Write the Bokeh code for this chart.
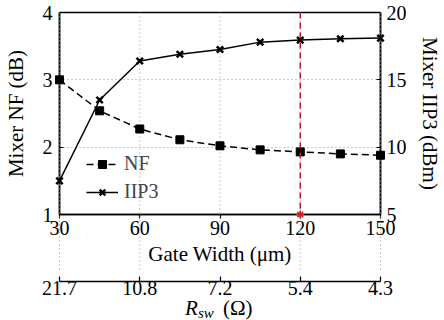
from bokeh.plotting import figure
from bokeh.models import Range1d, LinearAxis, FixedTicker, Span, Legend, LegendItem
from bokeh.core.properties import value
from bokeh.embed import file_html
from bokeh.resources import INLINE

# ---- data ----
gate_width = [30, 45, 60, 75, 90, 105, 120, 135, 150]
nf_db = [3.0, 2.54, 2.27, 2.11, 2.02, 1.96, 1.93, 1.90, 1.88]
iip3_dbm = [7.5, 13.5, 16.4, 16.9, 17.25, 17.8, 17.95, 18.05, 18.1]
gw_ticks = [30, 60, 90, 120, 150]
rsw_labels = ["21.7", "10.8", "7.2", "5.4", "4.3"]
nf_ticks = [1, 2, 3, 4]
iip3_ticks = [5, 10, 15, 20]
chosen_width = [120]
chosen_floor = [1]

FONT = "Liberation Serif"
TICK_FS = "20px"
LABEL_FS = "21px"

# layout constants (data-space rows below the frame, used for the twin-axis band)
BAND_BOTTOM = 0.1386
GW_TITLE_Y = 0.406
RSW_TITLE_Y = -0.39

p = figure(width=444, height=320, x_range=Range1d(30, 150), y_range=Range1d(1, 4),
           output_backend="svg", toolbar_location=None,
           min_border_left=57, min_border_right=58, min_border_top=12,
           min_border_bottom=106, background_fill_color="white",
           border_fill_color="white")
p.extra_y_ranges = {"iip3": Range1d(5, 20)}
p.outline_line_color = "black"
p.outline_line_width = 1.5

# grids (vertical ones are drawn as dotted segments reaching the second axis)
p.xgrid.visible = False
p.ygrid.ticker = FixedTicker(ticks=nf_ticks)
p.ygrid.grid_line_color = "#999999"
p.ygrid.grid_line_dash = "1 3"
p.ygrid.grid_line_width = 1

# left axis
ya = p.yaxis[0]
ya.ticker = FixedTicker(ticks=nf_ticks)
ya.axis_label = "Mixer NF (dB)"
ya.axis_label_standoff = 12
ya.major_label_standoff = 7
ya.major_tick_in = 4
ya.major_tick_out = 0

# right axis
yr = LinearAxis(y_range_name="iip3", ticker=FixedTicker(ticks=iip3_ticks),
                axis_label="Mixer IIP3 (dBm)")
yr.axis_label_standoff = 8
yr.major_label_standoff = 6
yr.major_tick_in = 4
yr.major_tick_out = 0
p.add_layout(yr, "right")

# bottom axis (gate width)
xa = p.xaxis[0]
xa.ticker = FixedTicker(ticks=gw_ticks)
xa.major_tick_in = 0
xa.major_tick_out = 4
xa.major_label_standoff = 2
xa.axis_label = " "
xa.axis_label_standoff = 17

# second bottom axis (R_sw)
xb = LinearAxis(ticker=FixedTicker(ticks=gw_ticks),
                major_label_overrides={t: s for t, s in zip(gw_ticks, rsw_labels)})
xb.major_tick_in = 5
xb.major_tick_out = 0
xb.major_label_standoff = -1
p.add_layout(xb, "below")

for ax in (ya, yr, xa, xb):
    ax.minor_tick_line_color = None
    ax.axis_line_color = "black"
    ax.axis_line_width = 1.5
    ax.major_tick_line_color = "black"
    ax.major_tick_line_width = 1.2
    ax.major_label_text_font = FONT
    ax.major_label_text_font_size = TICK_FS
    ax.major_label_text_color = "black"
    ax.axis_label_text_font = FONT
    ax.axis_label_text_font_size = LABEL_FS
    ax.axis_label_text_font_style = "normal"
    ax.axis_label_text_color = "black"

# dotted vertical guides from the top of the frame down to the second axis
p.segment(x0=gw_ticks, y0=[nf_ticks[-1]] * len(gw_ticks), x1=gw_ticks,
          y1=[BAND_BOTTOM] * len(gw_ticks), line_color="#8c8c8c", line_dash="1 3",
          line_width=1, level="overlay")

# red marker line
p.add_layout(Span(location=chosen_width[0], dimension="height", line_color="#b22222",
                  line_dash="6 4", line_width=1.5, level="overlay"))

# series
nf_line = p.line(gate_width, nf_db, line_color="black", line_width=1.5, line_dash="7 4",
                 level="overlay")
nf_pts = p.scatter(gate_width, nf_db, marker="square", size=8, fill_color="black",
                   line_color="black", level="overlay")
ip_line = p.line(gate_width, iip3_dbm, y_range_name="iip3", line_color="black",
                 line_width=1.5, level="overlay")
ip_pts = p.scatter(gate_width, iip3_dbm, y_range_name="iip3", marker="x", size=9,
                   line_color="black", line_width=2.5, level="overlay")
p.scatter(chosen_width, chosen_floor, marker="asterisk", size=8, line_color="#cc2222",
          line_width=1.5, level="overlay")

legend = Legend(items=[LegendItem(label="NF", renderers=[nf_line, nf_pts]),
                       LegendItem(label="IIP3", renderers=[ip_line, ip_pts])],
                location=(27, 11), orientation="vertical")
legend.border_line_color = None
legend.background_fill_alpha = 0
legend.label_text_font = FONT
legend.label_text_font_size = TICK_FS
legend.glyph_width = 32
legend.glyph_height = 20
legend.label_height = 20
legend.label_standoff = 6
legend.spacing = 5
legend.padding = 0
legend.margin = 0
p.add_layout(legend)

# axis titles in the band below the frame
mid = gw_ticks[2]
p.text(x=[mid], y=[GW_TITLE_Y], text=["Gate Width (\u03bcm)"], text_font=value(FONT),
       text_font_size="21px", text_align="center", text_baseline="middle",
       text_color="black", background_fill_color="white", padding=5, level="overlay")
p.text(x=[mid], y=[RSW_TITLE_Y], text=["R"], x_offset=-35, text_font=value(FONT),
       text_font_style="italic", text_font_size="21px", text_align="left",
       text_baseline="middle", text_color="black", level="overlay")
p.text(x=[mid], y=[RSW_TITLE_Y], text=["sw"], x_offset=-22, y_offset=5,
       text_font=value(FONT), text_font_style="italic", text_font_size="15px",
       text_align="left", text_baseline="middle", text_color="black", level="overlay")
p.text(x=[mid], y=[RSW_TITLE_Y], text=["(\u03a9)"], x_offset=3, text_font=value(FONT),
       text_font_size="21px", text_align="left", text_baseline="middle",
       text_color="black", level="overlay")

open("out.html", "w").write(file_html(p, INLINE))
